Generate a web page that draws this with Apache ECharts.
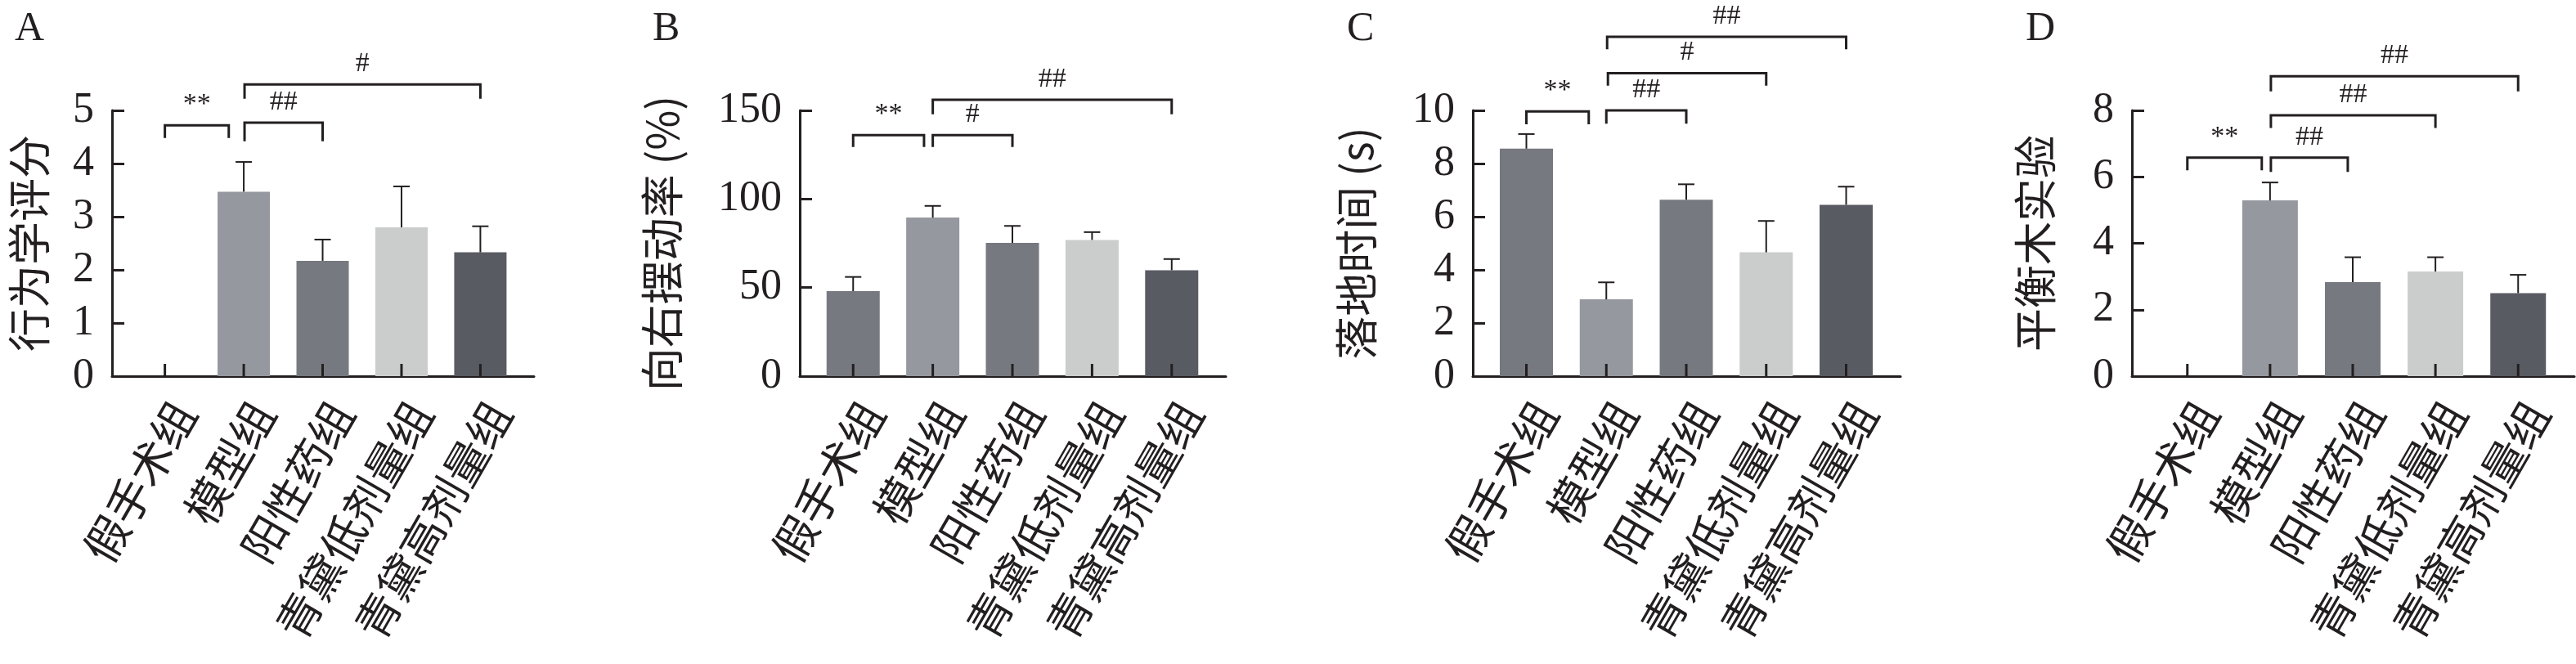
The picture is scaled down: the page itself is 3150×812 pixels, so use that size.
<!DOCTYPE html>
<html><head><meta charset="utf-8">
<script src="https://cdn.jsdelivr.net/npm/echarts@6/dist/echarts.min.js"></script>
<style>html,body{margin:0;padding:0;background:#fff}#c{width:3150px;height:812px}</style>
</head><body><div id="c"></div>
<script>
// ---- data ----
const categories = ['假手术组','模型组','阳性药组','青黛低剂量组','青黛高剂量组'];
const panelLetters = ['A','B','C','D'];
const yAxisNames = ['行为学评分','向右摆动率 (%)','落地时间 (s)','平衡木实验'];
const yMax = [5, 150, 10, 8];
const yInterval = [1, 50, 2, 2];

const meanA = [0, 3.47, 2.17, 2.80, 2.33];
const sdA   = [null, 0.56, 0.40, 0.77, 0.49];
const meanB = [48.0, 89.5, 75.2, 76.9, 59.8];
const sdB   = [8.0, 6.6, 9.6, 4.4, 6.3];
const meanC = [8.56, 2.89, 6.64, 4.66, 6.45];
const sdC   = [0.55, 0.64, 0.58, 1.18, 0.68];
const meanD = [0, 5.29, 2.83, 3.15, 2.50];
const sdD   = [null, 0.54, 0.75, 0.43, 0.55];

// significance brackets: [from category, to category, height, leg drop]
const bracketsA = [[0, 0.81, 4.72, 0.24], [1.01, 2.0, 4.77, 0.35], [1.01, 4.0, 5.49, 0.27]];
const bracketLabelsA = ['**', '##', '#'];
const bracketsB = [[0, 0.89, 136, 6.6], [1.0, 2.0, 136, 6.6], [1.0, 4.0, 156, 8.2]];
const bracketLabelsB = ['**', '#', '##'];
const bracketsC = [[0, 0.78, 9.96, 0.48], [1.0, 2.0, 10.0, 0.5], [1.02, 3.0, 11.4, 0.47], [1.01, 4.0, 12.77, 0.47]];
const bracketLabelsC = ['**', '##', '#', '##'];
const bracketsD = [[0, 0.9, 6.58, 0.38], [1.01, 1.94, 6.58, 0.43], [1.01, 3.0, 7.85, 0.38], [1.01, 4.0, 9.03, 0.46]];
const bracketLabelsD = ['**', '##', '##', '##'];

const tickValues = [0, 1, 2, 3, 4];

const means = [meanA, meanB, meanC, meanD];
const sds = [sdA, sdB, sdC, sdD];
const brackets = [bracketsA, bracketsB, bracketsC, bracketsD];
const bracketLabels = [bracketLabelsA, bracketLabelsB, bracketLabelsC, bracketLabelsD];

// ---- styles / layout ----
const barColors = ['#76797f', '#95989f', '#76797f', '#cbcdcc', '#585b62'];
const INK = '#231f20';
const gridLeft = [137, 978, 1801, 2607];
const gridWidth = [516, 521, 523, 541];
const barW = [64, 65, 65, 68];
const nameGap = [75, 142, 116, 92];
const letterLeft = [13, 793, 1642, 2472];
const SERIF = '"Liberation Serif","Times New Roman",serif';
const CJK = '"Noto Sans CJK SC","Noto Sans",sans-serif';
const TICK_LEN = 15;

const chart = echarts.init(document.getElementById('c'));
const grid = [], xAxis = [], yAxis = [], series = [], title = [];
for (let i = 0; i < 4; i++) {
  grid.push({left: gridLeft[i], top: 135, width: gridWidth[i], height: 325});
  title.push({text: panelLetters[i], left: letterLeft[i], top: 6,
    textStyle: {fontFamily: SERIF, fontSize: 50, fontWeight: 'normal', color: INK}});
  xAxis.push({
    gridIndex: i, type: 'value', min: -0.67, max: 4.68, z: 1,
    axisLine: {show: true, onZero: false, lineStyle: {color: INK, width: 3}},
    axisTick: {show: false},
    axisLabel: {customValues: tickValues, formatter: v => categories[Math.round(v)], rotate: 60,
      align: 'right', verticalAlign: 'top', margin: 22, fontFamily: CJK, fontSize: 54, color: INK},
    splitLine: {show: false}
  });
  yAxis.push({
    gridIndex: i, type: 'value', min: 0, max: yMax[i], interval: yInterval[i], z: 1,
    name: yAxisNames[i], nameLocation: 'middle', nameGap: nameGap[i],
    nameTextStyle: {fontFamily: CJK, fontSize: 53, color: INK},
    axisLine: {show: true, onZero: false, lineStyle: {color: INK, width: 3}},
    axisTick: {show: true, inside: true, length: TICK_LEN, lineStyle: {color: INK, width: 3}},
    axisLabel: {margin: 22, fontFamily: SERIF, fontSize: 52, color: INK},
    splitLine: {show: false}
  });
  series.push({
    type: 'bar', xAxisIndex: i, yAxisIndex: i, barWidth: barW[i], z: 2,
    data: means[i].map((v, k) => ({value: [k, v], itemStyle: {color: barColors[k]}})),
    animation: false
  });
  // error bars + inward category tick at each group
  const sdArr = sds[i];
  const meanArr = means[i];
  series.push({
    type: 'custom', xAxisIndex: i, yAxisIndex: i, clip: false, z: 10, animation: false,
    encode: {x: 0, y: 1},
    data: meanArr.map((v, k) => [tickValues[k], v]),
    renderItem: (params, api) => {
      const k = params.dataIndex;
      const x = tickValues[k], m = meanArr[k], sd = sdArr[k];
      const base = api.coord([x, 0]);
      const children = [
        {type: 'rect', shape: {x: base[0] - 1.5, y: base[1] - TICK_LEN, width: 3, height: TICK_LEN},
          style: {fill: INK}, z2: 10}
      ];
      if (sd) {
        const p0 = api.coord([x, m]), p1 = api.coord([x, m + sd]);
        children.push(
          {type: 'line', shape: {x1: p0[0], y1: p0[1], x2: p1[0], y2: p1[1]}, style: {stroke: INK, lineWidth: 2}},
          {type: 'line', shape: {x1: p1[0] - 10, y1: p1[1], x2: p1[0] + 10, y2: p1[1]}, style: {stroke: INK, lineWidth: 2}}
        );
      }
      return {type: 'group', children};
    }
  });
  const labels = bracketLabels[i];
  series.push({
    type: 'custom', xAxisIndex: i, yAxisIndex: i, clip: false, z: 4, animation: false,
    encode: {x: [0, 1], y: [2]},
    data: brackets[i],
    renderItem: (params, api) => {
      const x1 = api.value(0), x2 = api.value(1), h = api.value(2), d = api.value(3);
      const a = api.coord([x1, h]), b = api.coord([x2, h]), lo = api.coord([x1, h - d]);
      return {type: 'group', children: [
        {type: 'polyline', shape: {points: [[a[0], lo[1]], a, b, [b[0], lo[1]]]},
          style: {stroke: INK, lineWidth: 3, fill: null}},
        {type: 'text', x: (a[0] + b[0]) / 2, y: a[1] - 8,
          style: {text: labels[params.dataIndex], fontFamily: SERIF, fontSize: 34, fill: INK,
            align: 'center', verticalAlign: 'bottom'}}
      ]};
    }
  });
}
chart.setOption({backgroundColor: '#fff', animation: false, title, grid, xAxis, yAxis, series});
</script></body></html>
